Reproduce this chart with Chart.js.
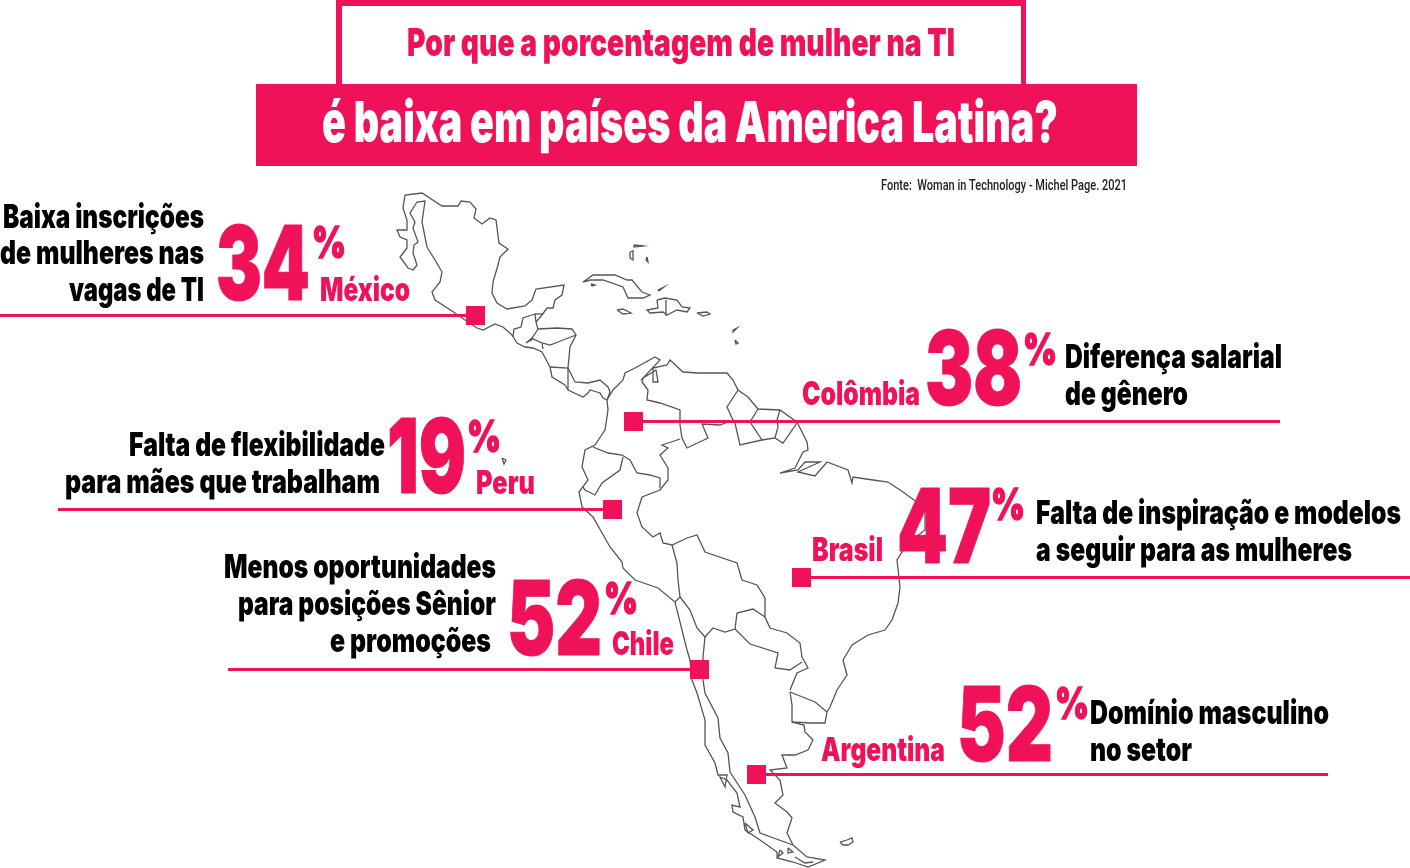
<!DOCTYPE html>
<html lang="pt-BR">
<head>
  <meta charset="UTF-8" />
  <title>Por que a porcentagem de mulher na TI é baixa em países da America Latina?</title>
  <script src="https://cdn.jsdelivr.net/npm/chart.js"></script>
  <style>
    html, body { margin: 0; background: #fff; }
    canvas { display: block; }
  </style>
</head>
<body>
  <canvas id="mapChart" width="1410" height="868"></canvas>
  <script>
    // the figures
    const countries = ['México', 'Colômbia', 'Peru', 'Chile', 'Brasil', 'Argentina'];
    const percents = [34, 38, 19, 52, 47, 52];
    const reasons = [
      ['Baixa inscrições', 'de mulheres nas', 'vagas de TI'],
      ['Diferença salarial', 'de gênero'],
      ['Falta de flexibilidade', 'para mães que trabalham'],
      ['Menos oportunidades', 'para posições Sênior', 'e promoções'],
      ['Falta de inspiração e modelos', 'a seguir para as mulheres'],
      ['Domínio masculino', 'no setor']
    ];
    const titleTop = 'Por que a porcentagem de mulher na TI';
    const titleBottom = 'é baixa em países da America Latina?';
    const source = 'Fonte:  Woman in Technology - Michel Page. 2021';

    // where each country sits on the map, and how far its rule runs
    const markerX = [475.5, 633.5, 612.5, 699.5, 801.5, 756.5];
    const markerY = [315.5, 421.5, 509.5, 669.5, 577.5, 774.5];
    const ruleEnd = [0, 1280, 58, 228, 1410, 1328];

    // map outlines
    const mexicoCoast = [[512,335],[503,327],[495,324],[483,330],[477,328],[462,318],[452,311],[435,300],[432,292],[440,282],[442,272],[435,260],[427,247],[422,222],[425,201],[417,202],[410,213],[415,222],[413,228],[418,242],[414,245],[413,253],[417,265],[413,270],[408,268],[400,257],[407,248],[407,240],[400,237],[397,230],[406,230],[407,220],[403,208],[405,195],[422,193],[442,206],[458,206],[461,201],[470,202],[476,209],[474,218],[482,224],[490,218],[496,220],[499,243],[508,249],[500,257],[498,265],[493,282],[492,293],[497,303],[507,309],[525,306],[532,300],[536,289],[564,285],[562,295],[555,300],[553,308],[547,308]];
    const centralPacific = [[512,335],[517,343],[525,347],[533,348],[542,352],[550,367],[552,377],[565,385],[568,390],[583,397],[588,393],[590,390],[600,393],[603,398],[607,400]];
    const centralCaribbean = [[547,308],[542,315],[536,322],[538,329],[557,328],[572,329],[576,335],[570,347],[568,368],[575,382],[588,383],[600,380],[608,387],[610,392],[607,400]];
    const guatemala = [[513,337],[514,329],[521,327],[523,318],[535,314],[536,322]];
    const honduras = [[538,329],[532,338],[526,343],[533,339],[542,343],[543,349]];
    const nicaragua = [[543,343],[550,345],[558,342],[576,335]];
    const costaRica = [[550,367],[568,368],[568,380],[568,390]];
    const belize = [[535,314],[543,314]];
    const southWest = [[607,400],[608,410],[605,430],[595,445],[585,450],[582,467],[588,480],[579,492],[582,507],[593,517],[610,547],[622,562],[623,568],[635,580],[658,588],[675,602],[687,650],[690,660],[692,680],[697,693],[705,720],[705,745],[715,763],[718,775],[727,775],[725,787],[720,777],[727,780],[737,793],[740,807],[732,805],[733,812],[743,817],[745,830],[760,840],[777,852],[777,858],[793,862],[808,867],[825,860],[807,857],[793,845]];
    const argentinaCoast = [[793,845],[787,833],[792,818],[787,812],[775,803],[783,795],[780,780],[770,770],[787,768],[782,755],[795,755],[808,750],[813,740],[805,732],[804,725],[792,722]];
    const uruguay = [[790,692],[792,705],[792,722],[810,723],[825,723],[827,712],[815,702],[790,692]];
    const brazilCoast = [[827,712],[830,707],[837,690],[847,675],[843,660],[852,645],[868,635],[885,630],[892,620],[898,603],[900,587],[897,560],[908,543],[925,530],[925,508],[903,492],[888,482],[873,480],[853,477],[852,483],[848,470],[827,462],[815,476],[798,472],[820,462],[805,462],[798,470],[780,473],[795,468],[803,452],[808,450],[807,442],[797,422]];
    const northCoast = [[797,422],[780,410],[758,409],[748,397],[738,390],[733,380],[727,373],[707,373],[698,373],[683,372],[670,360],[667,365],[653,368],[653,382],[658,382],[656,370],[643,378],[660,360],[655,357],[635,368],[625,373],[623,380],[613,390],[607,400]];
    const colombiaVenezuela = [[643,378],[642,382],[648,390],[647,400],[660,403],[680,410],[680,425],[682,438],[687,448],[708,438],[702,424],[720,425],[733,420],[727,407],[738,390]];
    const amazonBorder = [[680,439],[662,445],[668,448],[660,455],[668,468],[668,480],[660,490],[642,497],[637,513],[642,527],[653,537],[660,533],[663,543],[672,545],[687,538],[697,535],[705,552],[737,563],[742,580],[757,585],[765,598],[765,617],[770,628],[787,633],[800,643],[802,657],[808,668],[797,673],[790,690]];
    const colombiaPeru = [[660,488],[660,478],[650,475],[637,473],[630,460],[622,455],[608,453],[593,447]];
    const ecuadorPeru = [[623,457],[620,470],[602,483],[595,495],[585,490],[583,487]];
    const guyana = [[733,420],[735,423],[740,445],[762,440],[750,422],[758,409]];
    const suriname = [[762,440],[775,438],[778,427],[777,420],[780,410]];
    const frenchGuiana = [[775,438],[783,443],[797,423]];
    const peruBolivia = [[672,545],[677,563],[678,580],[680,597],[675,602]];
    const boliviaSouth = [[680,597],[690,610],[697,628],[705,637],[713,628],[725,632],[735,629],[737,613],[753,609],[765,617]];
    const paraguay = [[735,629],[750,644],[778,653],[775,668],[790,670],[802,662]];
    const andes = [[705,637],[703,657],[703,680],[705,693],[718,718],[720,738],[728,753],[730,772],[745,795],[755,817],[760,833],[793,845]];
    const falklands = [[840,842],[847,840],[852,838],[853,842],[848,845],[843,845],[840,842]];
    const cuba = [[583,282],[593,275],[615,275],[627,280],[632,280],[642,292],[650,295],[643,298],[628,298],[623,287],[603,280],[590,280],[583,282]];
    const jamaica = [[617,310],[623,309],[631,313],[623,314],[617,310]];
    const hispaniola = [[657,300],[665,298],[677,300],[682,307],[690,308],[687,312],[677,310],[667,315],[663,312],[650,313],[647,310],[658,308],[657,300]];
    const haitiBorder = [[666,300],[666,316]];
    const puertoRico = [[697,313],[707,312],[710,314],[703,316],[697,313]];
    const islandA = [[634,245],[643,246],[634,247],[634,245]];
    const islandB = [[630,252],[633,251],[633,260],[630,258],[630,252]];
    const islandC = [[647,257],[648,262],[646,260],[647,257]];
    const islandD = [[658,290],[664,287],[659,291],[658,290]];
    const islandE = [[733,330],[737,328],[733,332],[733,330]];
    const islandF = [[735,340],[738,343],[736,344],[735,340]];
    const isleOfYouth = [[591,284],[595,285],[592,286],[591,284]];
    const galapagos = [[502,458],[506,460],[504,464],[502,458]];
    const southIslandA = [[780,850],[783,853],[778,857],[780,850]];
    const southIslandB = [[788,848],[793,852],[788,853],[788,848]];
    const southIslandC = [[745,823],[753,830],[748,833],[745,823]];
    const southIslandD = [[795,857],[805,863],[813,862]];

    const outlines = [mexicoCoast, centralPacific, centralCaribbean, guatemala, honduras, nicaragua, costaRica, belize,
      southWest, argentinaCoast, uruguay, brazilCoast, northCoast, colombiaVenezuela, amazonBorder, colombiaPeru,
      ecuadorPeru, guyana, suriname, frenchGuiana, peruBolivia, boliviaSouth, paraguay, andes, falklands, cuba,
      jamaica, hispaniola, haitiBorder, puertoRico, islandA, islandB, islandC, islandD, islandE, islandF,
      isleOfYouth, galapagos, southIslandA, southIslandB, southIslandC, southIslandD];

    const PINK = '#f01259';
    const HEAVY = 'Inter';

    // x, baseline and width for each piece of text, same order as countries
    const layout = [
      { name: [320, 301, 90], num: [216, 300, 94], pct: [312, 258, 34], lines: [[3, 228, 201], [0, 264, 204], [69, 301, 135]] },
      { name: [802, 405, 118], num: [925, 405, 97], pct: [1023, 365, 34], lines: [[1065, 368, 217], [1065, 405, 123]] },
      { name: [476, 494, 59], num: [387, 493, 79], pct: [467, 452, 34], lines: [[129, 456, 256], [65, 493, 315]] },
      { name: [612, 655, 62], num: [507, 655, 95], pct: [604, 614, 34], lines: [[224, 578, 272], [238, 615, 258], [330, 652, 161]] },
      { name: [812, 561, 71], num: [897, 563, 94], pct: [991, 520, 34], lines: [[1036, 524, 365], [1036, 561, 316]] },
      { name: [821, 761, 124], num: [957, 761, 96], pct: [1055, 719, 34], lines: [[1090, 724, 239], [1090, 761, 102]] }
    ];

    // squeezes the text into the width it has in the picture
    function fitText(ctx, text, x, y, w, font, color, thicken) {
      ctx.save();
      ctx.font = font;
      ctx.fillStyle = color;
      ctx.strokeStyle = color;
      ctx.textBaseline = 'alphabetic';
      ctx.textAlign = 'left';
      ctx.translate(x, y);
      ctx.scale(w / ctx.measureText(text).width, 1);
      ctx.fillText(text, 0, 0);
      if (thicken) {
        ctx.lineWidth = thicken;
        ctx.strokeText(text, 0, 0);
      }
      ctx.restore();
    }

    const banner = {
      id: 'banner',
      beforeDatasetsDraw(chart) {
        const ctx = chart.ctx;
        ctx.save();
        ctx.fillStyle = PINK;
        ctx.fillRect(336, 0, 690, 6);
        ctx.fillRect(336, 0, 6, 84);
        ctx.fillRect(1021, 0, 5, 84);
        ctx.fillRect(256, 84, 881, 82);
        ctx.restore();
      }
    };

    const labels = {
      id: 'labels',
      afterDatasetsDraw(chart) {
        const ctx = chart.ctx;
        fitText(ctx, titleTop, 407, 56, 548, `900 39px ${HEAVY}`, PINK);
        fitText(ctx, titleBottom, 322, 142, 736, `900 57px ${HEAVY}`, '#fff');
        fitText(ctx, source, 881, 190, 246, `500 14px Roboto`, '#222');
        countries.forEach((name, i) => {
          const l = layout[i];
          fitText(ctx, name, l.name[0], l.name[1], l.name[2], `900 33px ${HEAVY}`, PINK);
          fitText(ctx, String(percents[i]), l.num[0], l.num[1], l.num[2], `900 103px ${HEAVY}`, PINK, 1);
          fitText(ctx, '%', l.pct[0], l.pct[1], l.pct[2], `900 44px ${HEAVY}`, PINK, 1.5);
          reasons[i].forEach((line, j) => {
            fitText(ctx, line, l.lines[j][0], l.lines[j][1], l.lines[j][2], `900 33px ${HEAVY}`, '#000');
          });
        });
      }
    };

    const datasets = [];
    datasets.push({
      data: markerX.map((x, i) => ({ x, y: markerY[i] })),
      pointStyle: 'rect',
      pointRadius: 13.4,
      backgroundColor: PINK,
      borderWidth: 0,
      showLine: false,
      order: 0
    });
    markerX.forEach((x, i) => {
      datasets.push({
        data: [{ x, y: markerY[i] }, { x: ruleEnd[i], y: markerY[i] }],
        showLine: true,
        pointRadius: 0,
        borderColor: PINK,
        borderWidth: 3,
        order: 1
      });
    });
    outlines.forEach(o => {
      datasets.push({
        data: o.map(p => ({ x: p[0], y: p[1] })),
        showLine: true,
        pointRadius: 0,
        borderColor: '#555',
        borderWidth: 1.3,
        tension: 0,
        order: 2
      });
    });

    new Chart(document.getElementById('mapChart'), {
      type: 'scatter',
      data: { datasets },
      plugins: [banner, labels],
      options: {
        responsive: false,
        animation: false,
        events: [],
        layout: { padding: 0, autoPadding: false },
        plugins: { legend: { display: false }, tooltip: { enabled: false } },
        scales: {
          x: { type: 'linear', min: 0, max: 1410, display: false },
          y: { type: 'linear', min: 0, max: 868, reverse: true, display: false }
        }
      }
    });
  </script>
</body>
</html>
